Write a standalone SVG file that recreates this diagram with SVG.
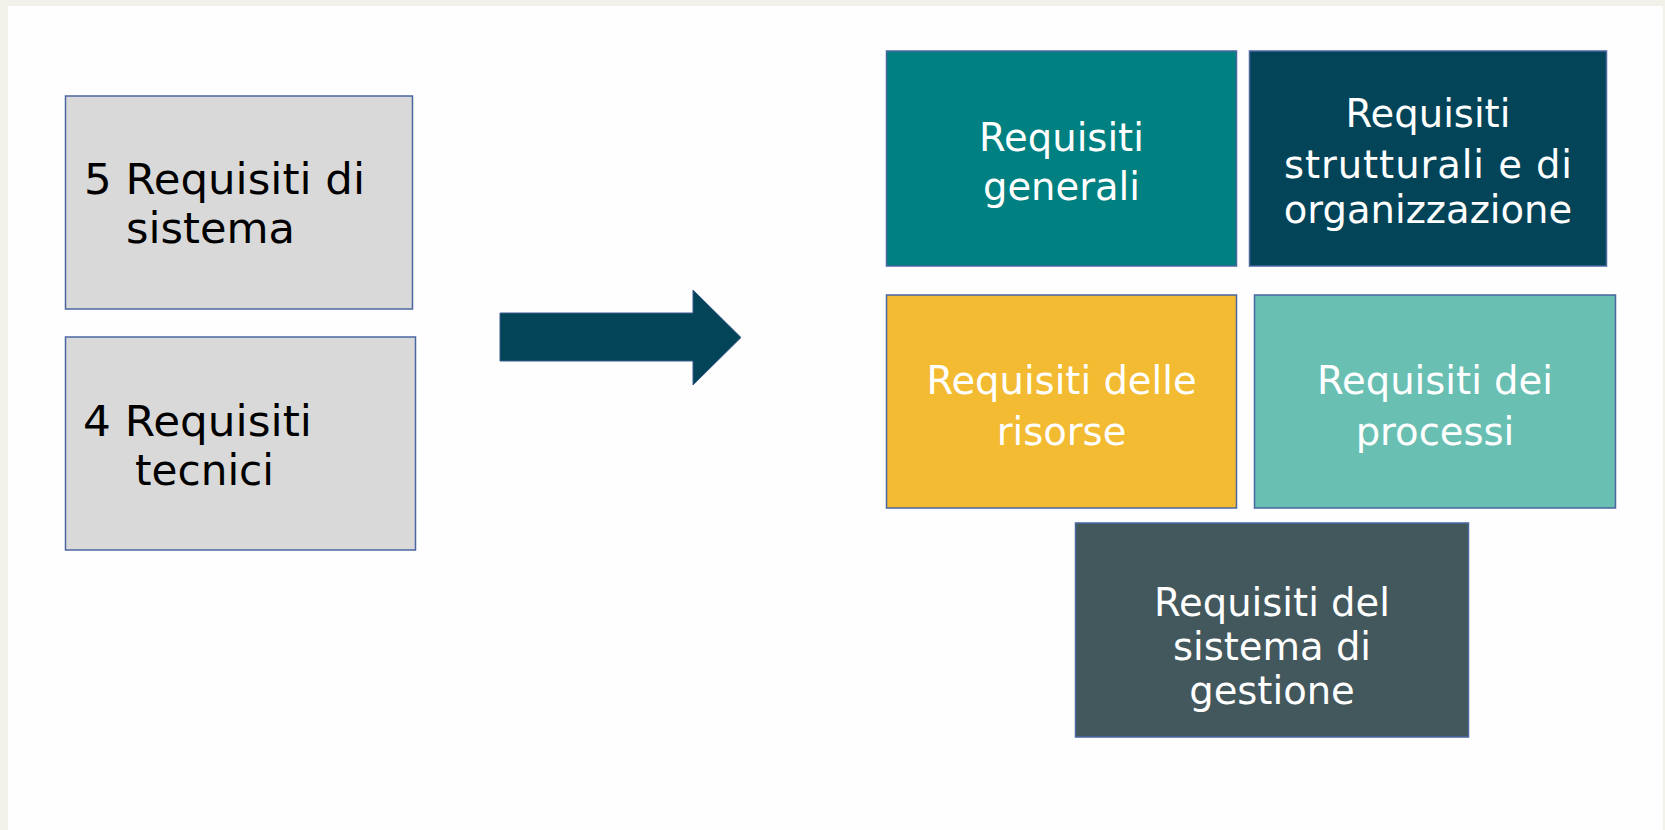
<svg xmlns="http://www.w3.org/2000/svg" width="1665" height="830" viewBox="0 0 1665 830">
<style>
.box{stroke:#4a66a0;stroke-width:1.5}
.lt{font-family:"DejaVu Sans",Verdana,sans-serif;font-size:42.5px;fill:#000}
.rt{font-family:"DejaVu Sans",Verdana,sans-serif;font-size:38.5px;fill:#fff;text-anchor:middle}
</style>
<rect x="0" y="0" width="1665" height="830" fill="#f1f0e9"/>
<rect x="8" y="6" width="1655" height="824" fill="#fefefe"/>
<g id="node-sistema">
<rect class="box" x="65.5" y="96" width="347" height="213" fill="#d9d9d9"/>
<text class="lt" x="84" y="194" textLength="281" lengthAdjust="spacingAndGlyphs">5 Requisiti di</text>
<text class="lt" x="126" y="243" textLength="169" lengthAdjust="spacingAndGlyphs">sistema</text>
</g>
<g id="node-tecnici">
<rect class="box" x="65.5" y="337" width="350" height="213" fill="#d9d9d9"/>
<text class="lt" x="83" y="436" textLength="229" lengthAdjust="spacingAndGlyphs">4 Requisiti</text>
<text class="lt" x="135" y="485" textLength="139" lengthAdjust="spacingAndGlyphs">tecnici</text>
</g>
<g id="connectors">
<polygon points="500,313 693,313 693,290 741,337.5 693,385 693,361 500,361" fill="#034458" stroke="#3a5a8a" stroke-width="1"/>
</g>
<g id="node-generali">
<rect class="box" x="886.5" y="51" width="350" height="215" fill="#008080"/>
<text class="rt" x="1061.5" y="151">Requisiti</text>
<text class="rt" x="1061.5" y="200">generali</text>
</g>
<g id="node-strutturali">
<rect class="box" x="1249.5" y="51" width="357" height="215" fill="#034458"/>
<text class="rt" x="1428" y="127">Requisiti</text>
<text class="rt" x="1428" y="178" textLength="288" lengthAdjust="spacing">strutturali e di</text>
<text class="rt" x="1428" y="223">organizzazione</text>
</g>
<g id="node-risorse">
<rect class="box" x="886.5" y="295" width="350" height="213" fill="#f2bb31"/>
<text class="rt" x="1061.5" y="394">Requisiti delle</text>
<text class="rt" x="1061.5" y="445">risorse</text>
</g>
<g id="node-processi">
<rect class="box" x="1254.5" y="295" width="361" height="213" fill="#6abfb3"/>
<text class="rt" x="1435" y="394">Requisiti dei</text>
<text class="rt" x="1435" y="445">processi</text>
</g>
<g id="node-gestione">
<rect class="box" x="1075.5" y="523" width="393" height="214" fill="#43585d"/>
<text class="rt" x="1272" y="616">Requisiti del</text>
<text class="rt" x="1272" y="660">sistema di</text>
<text class="rt" x="1272" y="704">gestione</text>
</g>
</svg>
